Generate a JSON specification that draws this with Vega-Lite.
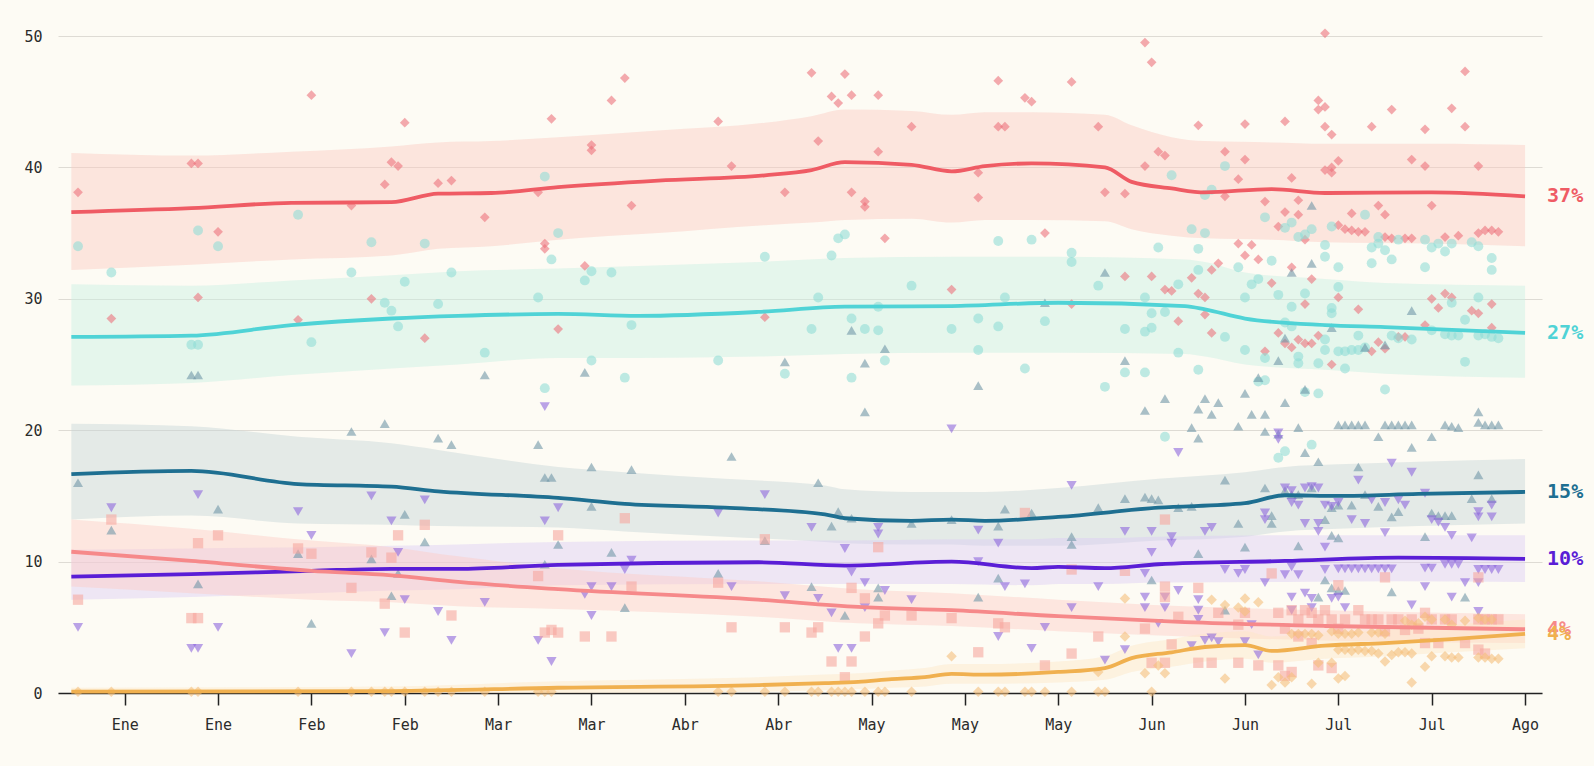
{
"$schema":"https://vega.github.io/schema/vega-lite/v6.json",
"width":1484,"height":657,
"autosize":{"type":"none"},
"padding":{"left":58,"top":36,"right":52,"bottom":73},
"background":"#fdfbf4",
"config":{"view":{"stroke":null},"font":"DejaVu Sans Mono",
"axisY":{"domain":false,"ticks":false,"tickSize":0,"labelPadding":16,"grid":true,"gridColor":"#dedbd4","gridWidth":1,"labelFont":"DejaVu Sans Mono","labelFontSize":15,"labelColor":"#2b2b2b","title":null},
"axisX":{"domain":true,"domainColor":"#222222","domainWidth":1.5,"ticks":true,"tickColor":"#222222","tickSize":12,"tickWidth":1.5,"grid":false,"labelFont":"DejaVu Sans Mono","labelFontSize":15,"labelColor":"#2b2b2b","labelPadding":12,"title":null}},
"datasets":{
"trend":[
{"date":"2015-01-03","party":"rojo","value":36.6,"lo":32.2,"hi":41.1},
{"date":"2015-01-21","party":"rojo","value":36.9,"lo":32.6,"hi":40.9},
{"date":"2015-02-05","party":"rojo","value":37.3,"lo":33.0,"hi":41.2},
{"date":"2015-02-20","party":"rojo","value":37.35,"lo":33.3,"hi":41.6},
{"date":"2015-02-27","party":"rojo","value":38.0,"lo":33.8,"hi":41.9},
{"date":"2015-03-07","party":"rojo","value":38.05,"lo":34.0,"hi":42.0},
{"date":"2015-03-17","party":"rojo","value":38.5,"lo":34.5,"hi":42.3},
{"date":"2015-04-01","party":"rojo","value":39.0,"lo":35.0,"hi":42.8},
{"date":"2015-04-17","party":"rojo","value":39.4,"lo":35.6,"hi":43.4},
{"date":"2015-04-24","party":"rojo","value":39.8,"lo":35.8,"hi":43.9},
{"date":"2015-04-29","party":"rojo","value":40.4,"lo":36.0,"hi":44.4},
{"date":"2015-05-09","party":"rojo","value":40.2,"lo":36.1,"hi":44.3},
{"date":"2015-05-15","party":"rojo","value":39.7,"lo":35.8,"hi":44.0},
{"date":"2015-05-20","party":"rojo","value":40.1,"lo":36.0,"hi":44.2},
{"date":"2015-05-27","party":"rojo","value":40.3,"lo":36.0,"hi":44.2},
{"date":"2015-06-07","party":"rojo","value":40.0,"lo":35.9,"hi":44.0},
{"date":"2015-06-11","party":"rojo","value":38.9,"lo":35.3,"hi":43.2},
{"date":"2015-06-17","party":"rojo","value":38.4,"lo":34.8,"hi":42.3},
{"date":"2015-06-22","party":"rojo","value":38.1,"lo":34.6,"hi":42.0},
{"date":"2015-07-02","party":"rojo","value":38.35,"lo":34.5,"hi":41.9},
{"date":"2015-07-10","party":"rojo","value":38.05,"lo":34.3,"hi":41.8},
{"date":"2015-07-26","party":"rojo","value":38.1,"lo":34.2,"hi":41.8},
{"date":"2015-08-09","party":"rojo","value":37.8,"lo":34.0,"hi":41.7},
{"date":"2015-01-03","party":"cian","value":27.1,"lo":23.4,"hi":31.1},
{"date":"2015-01-21","party":"cian","value":27.2,"lo":23.6,"hi":31.0},
{"date":"2015-02-05","party":"cian","value":28.0,"lo":24.2,"hi":31.4},
{"date":"2015-02-20","party":"cian","value":28.5,"lo":24.7,"hi":31.8},
{"date":"2015-03-02","party":"cian","value":28.7,"lo":25.0,"hi":32.1},
{"date":"2015-03-17","party":"cian","value":28.85,"lo":25.5,"hi":32.3},
{"date":"2015-03-29","party":"cian","value":28.7,"lo":25.5,"hi":32.5},
{"date":"2015-04-16","party":"cian","value":29.0,"lo":25.6,"hi":32.8},
{"date":"2015-04-29","party":"cian","value":29.4,"lo":25.8,"hi":33.1},
{"date":"2015-05-15","party":"cian","value":29.45,"lo":25.9,"hi":33.2},
{"date":"2015-05-31","party":"cian","value":29.7,"lo":25.9,"hi":33.2},
{"date":"2015-06-19","party":"cian","value":29.45,"lo":25.8,"hi":33.0},
{"date":"2015-06-22","party":"cian","value":29.2,"lo":25.6,"hi":32.8},
{"date":"2015-06-28","party":"cian","value":28.5,"lo":25.0,"hi":32.0},
{"date":"2015-07-10","party":"cian","value":28.0,"lo":24.6,"hi":31.5},
{"date":"2015-07-19","party":"cian","value":27.85,"lo":24.3,"hi":31.2},
{"date":"2015-08-09","party":"cian","value":27.4,"lo":24.0,"hi":31.0},
{"date":"2015-01-03","party":"azul","value":16.65,"lo":13.2,"hi":20.5},
{"date":"2015-01-21","party":"azul","value":16.9,"lo":13.5,"hi":20.3},
{"date":"2015-02-06","party":"azul","value":15.9,"lo":12.9,"hi":19.5},
{"date":"2015-02-20","party":"azul","value":15.7,"lo":12.8,"hi":19.0},
{"date":"2015-02-27","party":"azul","value":15.35,"lo":12.7,"hi":18.5},
{"date":"2015-03-17","party":"azul","value":14.85,"lo":12.6,"hi":17.2},
{"date":"2015-03-27","party":"azul","value":14.4,"lo":12.3,"hi":16.8},
{"date":"2015-04-11","party":"azul","value":14.1,"lo":11.9,"hi":16.3},
{"date":"2015-04-26","party":"azul","value":13.6,"lo":11.5,"hi":15.8},
{"date":"2015-04-29","party":"azul","value":13.3,"lo":11.4,"hi":15.5},
{"date":"2015-05-09","party":"azul","value":13.1,"lo":11.3,"hi":15.3},
{"date":"2015-05-15","party":"azul","value":13.2,"lo":11.3,"hi":15.3},
{"date":"2015-05-20","party":"azul","value":13.1,"lo":11.2,"hi":15.3},
{"date":"2015-05-31","party":"azul","value":13.4,"lo":11.2,"hi":15.6},
{"date":"2015-06-15","party":"azul","value":14.1,"lo":11.6,"hi":16.3},
{"date":"2015-06-28","party":"azul","value":14.45,"lo":11.9,"hi":16.8},
{"date":"2015-07-04","party":"azul","value":15.05,"lo":12.3,"hi":17.2},
{"date":"2015-07-12","party":"azul","value":15.0,"lo":12.5,"hi":17.4},
{"date":"2015-07-24","party":"azul","value":15.15,"lo":12.7,"hi":17.6},
{"date":"2015-08-09","party":"azul","value":15.3,"lo":12.9,"hi":17.8},
{"date":"2015-01-03","party":"morado","value":8.85,"lo":7.1,"hi":10.9},
{"date":"2015-01-21","party":"morado","value":9.05,"lo":7.3,"hi":11.0},
{"date":"2015-02-08","party":"morado","value":9.3,"lo":7.6,"hi":11.1},
{"date":"2015-02-20","party":"morado","value":9.45,"lo":7.8,"hi":11.2},
{"date":"2015-03-02","party":"morado","value":9.45,"lo":7.9,"hi":11.3},
{"date":"2015-03-17","party":"morado","value":9.75,"lo":8.2,"hi":11.5},
{"date":"2015-04-16","party":"morado","value":9.95,"lo":8.3,"hi":11.6},
{"date":"2015-04-29","party":"morado","value":9.7,"lo":8.3,"hi":11.6},
{"date":"2015-05-15","party":"morado","value":10.0,"lo":8.3,"hi":11.7},
{"date":"2015-05-27","party":"morado","value":9.5,"lo":8.2,"hi":11.7},
{"date":"2015-05-31","party":"morado","value":9.6,"lo":8.3,"hi":11.8},
{"date":"2015-06-07","party":"morado","value":9.5,"lo":8.3,"hi":11.8},
{"date":"2015-06-15","party":"morado","value":9.8,"lo":8.4,"hi":11.9},
{"date":"2015-07-04","party":"morado","value":10.05,"lo":8.45,"hi":12.0},
{"date":"2015-07-21","party":"morado","value":10.3,"lo":8.5,"hi":12.0},
{"date":"2015-08-09","party":"morado","value":10.2,"lo":8.45,"hi":12.0},
{"date":"2015-01-03","party":"rosa","value":10.75,"lo":8.1,"hi":13.2},
{"date":"2015-01-21","party":"rosa","value":10.05,"lo":7.6,"hi":12.5},
{"date":"2015-02-08","party":"rosa","value":9.3,"lo":7.1,"hi":11.6},
{"date":"2015-02-20","party":"rosa","value":8.95,"lo":6.9,"hi":11.1},
{"date":"2015-03-02","party":"rosa","value":8.45,"lo":6.6,"hi":10.4},
{"date":"2015-03-17","party":"rosa","value":7.9,"lo":6.4,"hi":9.5},
{"date":"2015-04-16","party":"rosa","value":7.1,"lo":5.8,"hi":8.5},
{"date":"2015-05-01","party":"rosa","value":6.55,"lo":5.3,"hi":7.9},
{"date":"2015-05-15","party":"rosa","value":6.3,"lo":5.1,"hi":7.6},
{"date":"2015-05-31","party":"rosa","value":5.85,"lo":4.7,"hi":7.1},
{"date":"2015-06-19","party":"rosa","value":5.4,"lo":4.3,"hi":6.6},
{"date":"2015-07-10","party":"rosa","value":5.1,"lo":4.0,"hi":6.3},
{"date":"2015-08-09","party":"rosa","value":4.85,"lo":3.8,"hi":6.0},
{"date":"2015-01-03","party":"naranja","value":0.1,"lo":0.0,"hi":0.4},
{"date":"2015-02-20","party":"naranja","value":0.15,"lo":0.0,"hi":0.5},
{"date":"2015-03-17","party":"naranja","value":0.4,"lo":0.0,"hi":0.9},
{"date":"2015-04-16","party":"naranja","value":0.6,"lo":0.1,"hi":1.2},
{"date":"2015-04-26","party":"naranja","value":0.75,"lo":0.2,"hi":1.4},
{"date":"2015-05-01","party":"naranja","value":0.85,"lo":0.3,"hi":1.5},
{"date":"2015-05-06","party":"naranja","value":1.05,"lo":0.4,"hi":1.7},
{"date":"2015-05-11","party":"naranja","value":1.2,"lo":0.5,"hi":1.9},
{"date":"2015-05-15","party":"naranja","value":1.45,"lo":0.7,"hi":2.2},
{"date":"2015-05-20","party":"naranja","value":1.4,"lo":0.7,"hi":2.2},
{"date":"2015-05-31","party":"naranja","value":1.6,"lo":0.8,"hi":2.4},
{"date":"2015-06-07","party":"naranja","value":1.9,"lo":1.0,"hi":2.8},
{"date":"2015-06-11","party":"naranja","value":2.65,"lo":1.6,"hi":3.6},
{"date":"2015-06-17","party":"naranja","value":3.1,"lo":2.0,"hi":4.1},
{"date":"2015-06-22","party":"naranja","value":3.5,"lo":2.4,"hi":4.5},
{"date":"2015-06-28","party":"naranja","value":3.65,"lo":2.6,"hi":4.7},
{"date":"2015-07-02","party":"naranja","value":3.2,"lo":2.3,"hi":4.3},
{"date":"2015-07-10","party":"naranja","value":3.6,"lo":2.6,"hi":4.6},
{"date":"2015-07-19","party":"naranja","value":3.8,"lo":2.8,"hi":4.8},
{"date":"2015-07-29","party":"naranja","value":4.1,"lo":3.1,"hi":5.2},
{"date":"2015-08-09","party":"naranja","value":4.5,"lo":3.4,"hi":5.6}
],
"labels":[
{"date":"2015-08-09","party":"rojo","value":37.8,"label":"37%"},
{"date":"2015-08-09","party":"cian","value":27.4,"label":"27%"},
{"date":"2015-08-09","party":"azul","value":15.3,"label":"15%"},
{"date":"2015-08-09","party":"morado","value":10.2,"label":"10%"},
{"date":"2015-08-09","party":"rosa","value":4.85,"label":"4%"},
{"date":"2015-08-09","party":"naranja","value":4.5,"label":"4%"}
],
"polls":[
{"date":"2015-01-04","party":"rojo","value":38.1},{"date":"2015-01-09","party":"rojo","value":28.5},{"date":"2015-01-21","party":"rojo","value":40.3},{"date":"2015-01-22","party":"rojo","value":40.3},{"date":"2015-01-22","party":"rojo","value":30.1},{"date":"2015-01-25","party":"rojo","value":35.1},{"date":"2015-02-06","party":"rojo","value":28.4},{"date":"2015-02-08","party":"rojo","value":45.5},{"date":"2015-02-14","party":"rojo","value":37.1},{"date":"2015-02-17","party":"rojo","value":30.0},{"date":"2015-02-19","party":"rojo","value":38.7},{"date":"2015-02-20","party":"rojo","value":40.4},{"date":"2015-02-21","party":"rojo","value":40.1},{"date":"2015-02-22","party":"rojo","value":43.4},{"date":"2015-02-25","party":"rojo","value":27.0},{"date":"2015-02-27","party":"rojo","value":38.8},{"date":"2015-03-01","party":"rojo","value":39.0},{"date":"2015-03-06","party":"rojo","value":36.2},{"date":"2015-03-14","party":"rojo","value":38.1},{"date":"2015-03-15","party":"rojo","value":34.2},{"date":"2015-03-15","party":"rojo","value":33.8},{"date":"2015-03-16","party":"rojo","value":43.7},{"date":"2015-03-17","party":"rojo","value":27.7},{"date":"2015-03-21","party":"rojo","value":32.5},{"date":"2015-03-22","party":"rojo","value":41.7},{"date":"2015-03-22","party":"rojo","value":41.3},{"date":"2015-03-25","party":"rojo","value":45.1},{"date":"2015-03-27","party":"rojo","value":46.8},{"date":"2015-03-28","party":"rojo","value":37.1},{"date":"2015-04-10","party":"rojo","value":43.5},{"date":"2015-04-12","party":"rojo","value":40.1},{"date":"2015-04-17","party":"rojo","value":28.6},{"date":"2015-04-20","party":"rojo","value":38.1},{"date":"2015-04-24","party":"rojo","value":47.2},{"date":"2015-04-25","party":"rojo","value":42.0},{"date":"2015-04-27","party":"rojo","value":45.4},{"date":"2015-04-28","party":"rojo","value":44.9},{"date":"2015-04-29","party":"rojo","value":47.1},{"date":"2015-04-30","party":"rojo","value":45.5},{"date":"2015-04-30","party":"rojo","value":38.1},{"date":"2015-05-02","party":"rojo","value":37.4},{"date":"2015-05-02","party":"rojo","value":37.0},{"date":"2015-05-04","party":"rojo","value":45.5},{"date":"2015-05-04","party":"rojo","value":41.2},{"date":"2015-05-05","party":"rojo","value":34.6},{"date":"2015-05-09","party":"rojo","value":43.1},{"date":"2015-05-15","party":"rojo","value":30.7},{"date":"2015-05-19","party":"rojo","value":39.6},{"date":"2015-05-19","party":"rojo","value":37.7},{"date":"2015-05-22","party":"rojo","value":46.6},{"date":"2015-05-22","party":"rojo","value":43.1},{"date":"2015-05-23","party":"rojo","value":43.1},{"date":"2015-05-26","party":"rojo","value":45.3},{"date":"2015-05-27","party":"rojo","value":45.0},{"date":"2015-05-29","party":"rojo","value":35.0},{"date":"2015-06-02","party":"rojo","value":46.5},{"date":"2015-06-02","party":"rojo","value":29.6},{"date":"2015-06-06","party":"rojo","value":43.1},{"date":"2015-06-07","party":"rojo","value":38.1},{"date":"2015-06-10","party":"rojo","value":38.0},{"date":"2015-06-10","party":"rojo","value":31.7},{"date":"2015-06-13","party":"rojo","value":49.5},{"date":"2015-06-13","party":"rojo","value":40.1},{"date":"2015-06-14","party":"rojo","value":48.0},{"date":"2015-06-14","party":"rojo","value":31.7},{"date":"2015-06-15","party":"rojo","value":41.2},{"date":"2015-06-16","party":"rojo","value":40.9},{"date":"2015-06-16","party":"rojo","value":30.7},{"date":"2015-06-17","party":"rojo","value":30.6},{"date":"2015-06-18","party":"rojo","value":28.3},{"date":"2015-06-20","party":"rojo","value":31.6},{"date":"2015-06-21","party":"rojo","value":43.2},{"date":"2015-06-21","party":"rojo","value":30.4},{"date":"2015-06-22","party":"rojo","value":30.1},{"date":"2015-06-22","party":"rojo","value":28.8},{"date":"2015-06-23","party":"rojo","value":32.2},{"date":"2015-06-23","party":"rojo","value":27.4},{"date":"2015-06-24","party":"rojo","value":32.7},{"date":"2015-06-25","party":"rojo","value":41.2},{"date":"2015-06-25","party":"rojo","value":37.8},{"date":"2015-06-27","party":"rojo","value":39.1},{"date":"2015-06-27","party":"rojo","value":34.2},{"date":"2015-06-28","party":"rojo","value":43.3},{"date":"2015-06-28","party":"rojo","value":40.6},{"date":"2015-06-28","party":"rojo","value":33.3},{"date":"2015-06-29","party":"rojo","value":34.1},{"date":"2015-06-30","party":"rojo","value":33.0},{"date":"2015-07-01","party":"rojo","value":37.4},{"date":"2015-07-01","party":"rojo","value":26.0},{"date":"2015-07-02","party":"rojo","value":31.2},{"date":"2015-07-03","party":"rojo","value":35.5},{"date":"2015-07-03","party":"rojo","value":27.4},{"date":"2015-07-04","party":"rojo","value":43.5},{"date":"2015-07-04","party":"rojo","value":36.6},{"date":"2015-07-04","party":"rojo","value":26.6},{"date":"2015-07-05","party":"rojo","value":39.2},{"date":"2015-07-05","party":"rojo","value":32.4},{"date":"2015-07-05","party":"rojo","value":26.3},{"date":"2015-07-06","party":"rojo","value":37.5},{"date":"2015-07-06","party":"rojo","value":36.4},{"date":"2015-07-06","party":"rojo","value":26.9},{"date":"2015-07-07","party":"rojo","value":34.5},{"date":"2015-07-07","party":"rojo","value":29.6},{"date":"2015-07-07","party":"rojo","value":26.6},{"date":"2015-07-08","party":"rojo","value":31.5},{"date":"2015-07-08","party":"rojo","value":26.6},{"date":"2015-07-09","party":"rojo","value":45.1},{"date":"2015-07-09","party":"rojo","value":44.4},{"date":"2015-07-09","party":"rojo","value":27.2},{"date":"2015-07-10","party":"rojo","value":50.2},{"date":"2015-07-10","party":"rojo","value":44.6},{"date":"2015-07-10","party":"rojo","value":43.1},{"date":"2015-07-10","party":"rojo","value":39.8},{"date":"2015-07-11","party":"rojo","value":42.5},{"date":"2015-07-11","party":"rojo","value":40.0},{"date":"2015-07-11","party":"rojo","value":39.6},{"date":"2015-07-11","party":"rojo","value":25.0},{"date":"2015-07-12","party":"rojo","value":40.5},{"date":"2015-07-12","party":"rojo","value":35.6},{"date":"2015-07-12","party":"rojo","value":30.1},{"date":"2015-07-13","party":"rojo","value":35.3},{"date":"2015-07-14","party":"rojo","value":36.5},{"date":"2015-07-14","party":"rojo","value":35.2},{"date":"2015-07-15","party":"rojo","value":35.1},{"date":"2015-07-15","party":"rojo","value":29.2},{"date":"2015-07-16","party":"rojo","value":35.1},{"date":"2015-07-17","party":"rojo","value":43.1},{"date":"2015-07-17","party":"rojo","value":26.0},{"date":"2015-07-18","party":"rojo","value":37.1},{"date":"2015-07-18","party":"rojo","value":26.7},{"date":"2015-07-19","party":"rojo","value":36.4},{"date":"2015-07-19","party":"rojo","value":34.7},{"date":"2015-07-19","party":"rojo","value":26.2},{"date":"2015-07-20","party":"rojo","value":44.4},{"date":"2015-07-20","party":"rojo","value":34.6},{"date":"2015-07-21","party":"rojo","value":27.1},{"date":"2015-07-22","party":"rojo","value":34.6},{"date":"2015-07-22","party":"rojo","value":27.1},{"date":"2015-07-23","party":"rojo","value":40.6},{"date":"2015-07-23","party":"rojo","value":34.6},{"date":"2015-07-25","party":"rojo","value":42.9},{"date":"2015-07-25","party":"rojo","value":40.1},{"date":"2015-07-25","party":"rojo","value":28.0},{"date":"2015-07-26","party":"rojo","value":37.1},{"date":"2015-07-26","party":"rojo","value":30.0},{"date":"2015-07-27","party":"rojo","value":29.3},{"date":"2015-07-28","party":"rojo","value":34.7},{"date":"2015-07-28","party":"rojo","value":30.4},{"date":"2015-07-29","party":"rojo","value":44.5},{"date":"2015-07-29","party":"rojo","value":30.1},{"date":"2015-07-30","party":"rojo","value":34.8},{"date":"2015-07-31","party":"rojo","value":47.3},{"date":"2015-07-31","party":"rojo","value":43.1},{"date":"2015-08-01","party":"rojo","value":29.1},{"date":"2015-08-02","party":"rojo","value":40.1},{"date":"2015-08-02","party":"rojo","value":35.0},{"date":"2015-08-02","party":"rojo","value":28.9},{"date":"2015-08-03","party":"rojo","value":35.2},{"date":"2015-08-04","party":"rojo","value":35.2},{"date":"2015-08-04","party":"rojo","value":29.6},{"date":"2015-08-04","party":"rojo","value":27.8},{"date":"2015-08-05","party":"rojo","value":35.1},
{"date":"2015-01-04","party":"cian","value":34.0},{"date":"2015-01-09","party":"cian","value":32.0},{"date":"2015-01-21","party":"cian","value":26.5},{"date":"2015-01-22","party":"cian","value":35.2},{"date":"2015-01-22","party":"cian","value":26.5},{"date":"2015-01-25","party":"cian","value":34.0},{"date":"2015-02-06","party":"cian","value":36.4},{"date":"2015-02-08","party":"cian","value":26.7},{"date":"2015-02-14","party":"cian","value":32.0},{"date":"2015-02-17","party":"cian","value":34.3},{"date":"2015-02-19","party":"cian","value":29.7},{"date":"2015-02-20","party":"cian","value":29.1},{"date":"2015-02-21","party":"cian","value":27.9},{"date":"2015-02-22","party":"cian","value":31.3},{"date":"2015-02-25","party":"cian","value":34.2},{"date":"2015-02-27","party":"cian","value":29.6},{"date":"2015-03-01","party":"cian","value":32.0},{"date":"2015-03-06","party":"cian","value":25.9},{"date":"2015-03-14","party":"cian","value":30.1},{"date":"2015-03-15","party":"cian","value":39.3},{"date":"2015-03-15","party":"cian","value":23.2},{"date":"2015-03-16","party":"cian","value":33.0},{"date":"2015-03-17","party":"cian","value":35.0},{"date":"2015-03-21","party":"cian","value":31.4},{"date":"2015-03-22","party":"cian","value":32.1},{"date":"2015-03-22","party":"cian","value":25.3},{"date":"2015-03-25","party":"cian","value":32.0},{"date":"2015-03-27","party":"cian","value":24.0},{"date":"2015-03-28","party":"cian","value":28.0},{"date":"2015-04-10","party":"cian","value":25.3},{"date":"2015-04-17","party":"cian","value":33.2},{"date":"2015-04-20","party":"cian","value":24.3},{"date":"2015-04-24","party":"cian","value":27.7},{"date":"2015-04-25","party":"cian","value":30.1},{"date":"2015-04-27","party":"cian","value":33.3},{"date":"2015-04-28","party":"cian","value":34.6},{"date":"2015-04-29","party":"cian","value":34.9},{"date":"2015-04-30","party":"cian","value":28.5},{"date":"2015-04-30","party":"cian","value":24.0},{"date":"2015-05-02","party":"cian","value":27.7},{"date":"2015-05-04","party":"cian","value":29.4},{"date":"2015-05-04","party":"cian","value":27.6},{"date":"2015-05-05","party":"cian","value":25.3},{"date":"2015-05-09","party":"cian","value":31.0},{"date":"2015-05-15","party":"cian","value":27.7},{"date":"2015-05-19","party":"cian","value":28.5},{"date":"2015-05-19","party":"cian","value":26.1},{"date":"2015-05-22","party":"cian","value":34.4},{"date":"2015-05-22","party":"cian","value":27.9},{"date":"2015-05-23","party":"cian","value":30.1},{"date":"2015-05-26","party":"cian","value":24.7},{"date":"2015-05-27","party":"cian","value":34.5},{"date":"2015-05-29","party":"cian","value":28.3},{"date":"2015-06-02","party":"cian","value":33.5},{"date":"2015-06-02","party":"cian","value":32.8},{"date":"2015-06-06","party":"cian","value":31.0},{"date":"2015-06-07","party":"cian","value":23.3},{"date":"2015-06-10","party":"cian","value":27.7},{"date":"2015-06-10","party":"cian","value":24.4},{"date":"2015-06-13","party":"cian","value":30.1},{"date":"2015-06-13","party":"cian","value":27.5},{"date":"2015-06-13","party":"cian","value":24.4},{"date":"2015-06-14","party":"cian","value":28.9},{"date":"2015-06-14","party":"cian","value":27.8},{"date":"2015-06-15","party":"cian","value":33.9},{"date":"2015-06-16","party":"cian","value":29.0},{"date":"2015-06-16","party":"cian","value":19.5},{"date":"2015-06-17","party":"cian","value":39.4},{"date":"2015-06-18","party":"cian","value":31.1},{"date":"2015-06-18","party":"cian","value":25.9},{"date":"2015-06-20","party":"cian","value":35.3},{"date":"2015-06-21","party":"cian","value":33.8},{"date":"2015-06-21","party":"cian","value":32.2},{"date":"2015-06-21","party":"cian","value":24.6},{"date":"2015-06-22","party":"cian","value":37.9},{"date":"2015-06-22","party":"cian","value":35.0},{"date":"2015-06-23","party":"cian","value":38.3},{"date":"2015-06-25","party":"cian","value":40.1},{"date":"2015-06-25","party":"cian","value":27.1},{"date":"2015-06-27","party":"cian","value":32.4},{"date":"2015-06-28","party":"cian","value":30.1},{"date":"2015-06-28","party":"cian","value":26.1},{"date":"2015-06-29","party":"cian","value":31.1},{"date":"2015-06-30","party":"cian","value":31.5},{"date":"2015-06-30","party":"cian","value":23.7},{"date":"2015-07-01","party":"cian","value":36.2},{"date":"2015-07-01","party":"cian","value":25.5},{"date":"2015-07-01","party":"cian","value":23.8},{"date":"2015-07-02","party":"cian","value":32.9},{"date":"2015-07-03","party":"cian","value":30.3},{"date":"2015-07-03","party":"cian","value":17.9},{"date":"2015-07-04","party":"cian","value":35.4},{"date":"2015-07-04","party":"cian","value":28.2},{"date":"2015-07-04","party":"cian","value":18.4},{"date":"2015-07-05","party":"cian","value":35.8},{"date":"2015-07-05","party":"cian","value":29.4},{"date":"2015-07-05","party":"cian","value":27.9},{"date":"2015-07-06","party":"cian","value":34.7},{"date":"2015-07-06","party":"cian","value":25.6},{"date":"2015-07-06","party":"cian","value":25.1},{"date":"2015-07-07","party":"cian","value":34.9},{"date":"2015-07-07","party":"cian","value":30.4},{"date":"2015-07-07","party":"cian","value":22.9},{"date":"2015-07-08","party":"cian","value":35.3},{"date":"2015-07-08","party":"cian","value":18.9},{"date":"2015-07-09","party":"cian","value":25.1},{"date":"2015-07-09","party":"cian","value":22.8},{"date":"2015-07-10","party":"cian","value":34.1},{"date":"2015-07-10","party":"cian","value":33.2},{"date":"2015-07-10","party":"cian","value":26.9},{"date":"2015-07-10","party":"cian","value":26.1},{"date":"2015-07-11","party":"cian","value":35.5},{"date":"2015-07-11","party":"cian","value":29.3},{"date":"2015-07-11","party":"cian","value":28.9},{"date":"2015-07-12","party":"cian","value":32.4},{"date":"2015-07-12","party":"cian","value":30.9},{"date":"2015-07-12","party":"cian","value":26.0},{"date":"2015-07-13","party":"cian","value":26.0},{"date":"2015-07-13","party":"cian","value":24.7},{"date":"2015-07-14","party":"cian","value":26.1},{"date":"2015-07-15","party":"cian","value":27.2},{"date":"2015-07-15","party":"cian","value":26.1},{"date":"2015-07-16","party":"cian","value":36.4},{"date":"2015-07-16","party":"cian","value":26.3},{"date":"2015-07-17","party":"cian","value":33.9},{"date":"2015-07-17","party":"cian","value":32.7},{"date":"2015-07-18","party":"cian","value":34.7},{"date":"2015-07-18","party":"cian","value":34.2},{"date":"2015-07-19","party":"cian","value":33.7},{"date":"2015-07-19","party":"cian","value":23.1},{"date":"2015-07-20","party":"cian","value":33.0},{"date":"2015-07-20","party":"cian","value":27.2},{"date":"2015-07-21","party":"cian","value":34.5},{"date":"2015-07-21","party":"cian","value":27.0},{"date":"2015-07-23","party":"cian","value":26.9},{"date":"2015-07-25","party":"cian","value":34.5},{"date":"2015-07-25","party":"cian","value":32.4},{"date":"2015-07-26","party":"cian","value":33.9},{"date":"2015-07-26","party":"cian","value":27.6},{"date":"2015-07-27","party":"cian","value":34.2},{"date":"2015-07-28","party":"cian","value":33.6},{"date":"2015-07-28","party":"cian","value":27.3},{"date":"2015-07-29","party":"cian","value":34.2},{"date":"2015-07-29","party":"cian","value":29.7},{"date":"2015-07-29","party":"cian","value":27.2},{"date":"2015-07-30","party":"cian","value":27.2},{"date":"2015-07-31","party":"cian","value":28.4},{"date":"2015-07-31","party":"cian","value":25.2},{"date":"2015-08-01","party":"cian","value":34.3},{"date":"2015-08-02","party":"cian","value":34.0},{"date":"2015-08-02","party":"cian","value":30.1},{"date":"2015-08-02","party":"cian","value":27.2},{"date":"2015-08-03","party":"cian","value":27.3},{"date":"2015-08-04","party":"cian","value":33.1},{"date":"2015-08-04","party":"cian","value":32.2},{"date":"2015-08-04","party":"cian","value":27.1},{"date":"2015-08-05","party":"cian","value":27.0},
{"date":"2015-01-04","party":"azul","value":16.0},{"date":"2015-01-09","party":"azul","value":12.4},{"date":"2015-01-21","party":"azul","value":24.2},{"date":"2015-01-22","party":"azul","value":24.2},{"date":"2015-01-22","party":"azul","value":8.3},{"date":"2015-01-25","party":"azul","value":14.0},{"date":"2015-02-06","party":"azul","value":10.6},{"date":"2015-02-08","party":"azul","value":5.3},{"date":"2015-02-14","party":"azul","value":19.9},{"date":"2015-02-17","party":"azul","value":10.2},{"date":"2015-02-19","party":"azul","value":20.5},{"date":"2015-02-20","party":"azul","value":7.4},{"date":"2015-02-21","party":"azul","value":9.1},{"date":"2015-02-22","party":"azul","value":13.6},{"date":"2015-02-25","party":"azul","value":11.5},{"date":"2015-02-27","party":"azul","value":19.4},{"date":"2015-03-01","party":"azul","value":18.9},{"date":"2015-03-06","party":"azul","value":24.2},{"date":"2015-03-14","party":"azul","value":18.9},{"date":"2015-03-15","party":"azul","value":16.4},{"date":"2015-03-15","party":"azul","value":9.8},{"date":"2015-03-16","party":"azul","value":16.4},{"date":"2015-03-17","party":"azul","value":11.3},{"date":"2015-03-21","party":"azul","value":24.4},{"date":"2015-03-22","party":"azul","value":17.2},{"date":"2015-03-22","party":"azul","value":14.2},{"date":"2015-03-25","party":"azul","value":10.7},{"date":"2015-03-27","party":"azul","value":6.5},{"date":"2015-03-28","party":"azul","value":17.0},{"date":"2015-04-10","party":"azul","value":9.1},{"date":"2015-04-12","party":"azul","value":18.0},{"date":"2015-04-17","party":"azul","value":11.6},{"date":"2015-04-20","party":"azul","value":25.2},{"date":"2015-04-24","party":"azul","value":8.1},{"date":"2015-04-25","party":"azul","value":16.0},{"date":"2015-04-27","party":"azul","value":12.7},{"date":"2015-04-28","party":"azul","value":13.8},{"date":"2015-04-29","party":"azul","value":5.9},{"date":"2015-04-30","party":"azul","value":27.6},{"date":"2015-04-30","party":"azul","value":13.3},{"date":"2015-05-02","party":"azul","value":25.1},{"date":"2015-05-02","party":"azul","value":21.4},{"date":"2015-05-04","party":"azul","value":8.0},{"date":"2015-05-04","party":"azul","value":7.3},{"date":"2015-05-05","party":"azul","value":26.2},{"date":"2015-05-09","party":"azul","value":12.9},{"date":"2015-05-15","party":"azul","value":13.2},{"date":"2015-05-19","party":"azul","value":23.4},{"date":"2015-05-19","party":"azul","value":7.3},{"date":"2015-05-22","party":"azul","value":12.7},{"date":"2015-05-22","party":"azul","value":8.75},{"date":"2015-05-23","party":"azul","value":14.0},{"date":"2015-05-27","party":"azul","value":13.7},{"date":"2015-05-29","party":"azul","value":29.7},{"date":"2015-06-02","party":"azul","value":11.9},{"date":"2015-06-02","party":"azul","value":11.3},{"date":"2015-06-06","party":"azul","value":14.1},{"date":"2015-06-07","party":"azul","value":32.0},{"date":"2015-06-10","party":"azul","value":25.3},{"date":"2015-06-10","party":"azul","value":14.8},{"date":"2015-06-13","party":"azul","value":21.5},{"date":"2015-06-13","party":"azul","value":14.9},{"date":"2015-06-14","party":"azul","value":14.8},{"date":"2015-06-14","party":"azul","value":8.6},{"date":"2015-06-15","party":"azul","value":14.7},{"date":"2015-06-16","party":"azul","value":22.4},{"date":"2015-06-18","party":"azul","value":14.1},{"date":"2015-06-20","party":"azul","value":20.2},{"date":"2015-06-20","party":"azul","value":14.2},{"date":"2015-06-21","party":"azul","value":21.6},{"date":"2015-06-21","party":"azul","value":19.4},{"date":"2015-06-21","party":"azul","value":10.6},{"date":"2015-06-22","party":"azul","value":22.4},{"date":"2015-06-23","party":"azul","value":21.2},{"date":"2015-06-24","party":"azul","value":22.1},{"date":"2015-06-25","party":"azul","value":16.2},{"date":"2015-06-25","party":"azul","value":6.3},{"date":"2015-06-27","party":"azul","value":20.3},{"date":"2015-06-27","party":"azul","value":12.9},{"date":"2015-06-28","party":"azul","value":22.8},{"date":"2015-06-28","party":"azul","value":11.1},{"date":"2015-06-29","party":"azul","value":21.2},{"date":"2015-06-30","party":"azul","value":24.0},{"date":"2015-07-01","party":"azul","value":21.2},{"date":"2015-07-01","party":"azul","value":19.9},{"date":"2015-07-01","party":"azul","value":15.6},{"date":"2015-07-02","party":"azul","value":13.5},{"date":"2015-07-02","party":"azul","value":12.9},{"date":"2015-07-03","party":"azul","value":25.3},{"date":"2015-07-03","party":"azul","value":19.7},{"date":"2015-07-04","party":"azul","value":27.0},{"date":"2015-07-04","party":"azul","value":22.1},{"date":"2015-07-04","party":"azul","value":15.4},{"date":"2015-07-05","party":"azul","value":32.0},{"date":"2015-07-05","party":"azul","value":15.1},{"date":"2015-07-06","party":"azul","value":20.2},{"date":"2015-07-06","party":"azul","value":15.1},{"date":"2015-07-06","party":"azul","value":11.2},{"date":"2015-07-07","party":"azul","value":23.1},{"date":"2015-07-07","party":"azul","value":18.3},{"date":"2015-07-08","party":"azul","value":37.1},{"date":"2015-07-08","party":"azul","value":32.7},{"date":"2015-07-08","party":"azul","value":15.6},{"date":"2015-07-09","party":"azul","value":17.6},{"date":"2015-07-09","party":"azul","value":7.3},{"date":"2015-07-10","party":"azul","value":13.2},{"date":"2015-07-10","party":"azul","value":8.6},{"date":"2015-07-11","party":"azul","value":27.8},{"date":"2015-07-11","party":"azul","value":14.1},{"date":"2015-07-11","party":"azul","value":12.0},{"date":"2015-07-11","party":"azul","value":8.0},{"date":"2015-07-12","party":"azul","value":20.4},{"date":"2015-07-12","party":"azul","value":14.3},{"date":"2015-07-12","party":"azul","value":11.8},{"date":"2015-07-12","party":"azul","value":7.8},{"date":"2015-07-13","party":"azul","value":20.4},{"date":"2015-07-13","party":"azul","value":7.8},{"date":"2015-07-14","party":"azul","value":20.4},{"date":"2015-07-14","party":"azul","value":14.3},{"date":"2015-07-15","party":"azul","value":20.4},{"date":"2015-07-15","party":"azul","value":17.2},{"date":"2015-07-16","party":"azul","value":20.4},{"date":"2015-07-16","party":"azul","value":26.3},{"date":"2015-07-16","party":"azul","value":15.1},{"date":"2015-07-18","party":"azul","value":19.5},{"date":"2015-07-18","party":"azul","value":14.2},{"date":"2015-07-19","party":"azul","value":20.4},{"date":"2015-07-19","party":"azul","value":26.5},{"date":"2015-07-20","party":"azul","value":20.4},{"date":"2015-07-20","party":"azul","value":13.4},{"date":"2015-07-20","party":"azul","value":7.7},{"date":"2015-07-21","party":"azul","value":20.4},{"date":"2015-07-21","party":"azul","value":13.8},{"date":"2015-07-22","party":"azul","value":20.4},{"date":"2015-07-23","party":"azul","value":20.4},{"date":"2015-07-23","party":"azul","value":18.7},{"date":"2015-07-23","party":"azul","value":29.1},{"date":"2015-07-25","party":"azul","value":11.9},{"date":"2015-07-26","party":"azul","value":19.5},{"date":"2015-07-26","party":"azul","value":13.7},{"date":"2015-07-27","party":"azul","value":13.5},{"date":"2015-07-28","party":"azul","value":20.4},{"date":"2015-07-28","party":"azul","value":13.5},{"date":"2015-07-29","party":"azul","value":20.3},{"date":"2015-07-29","party":"azul","value":13.5},{"date":"2015-07-30","party":"azul","value":20.2},{"date":"2015-07-31","party":"azul","value":7.3},{"date":"2015-08-01","party":"azul","value":14.8},{"date":"2015-08-02","party":"azul","value":21.4},{"date":"2015-08-02","party":"azul","value":20.6},{"date":"2015-08-02","party":"azul","value":16.6},{"date":"2015-08-03","party":"azul","value":20.4},{"date":"2015-08-04","party":"azul","value":20.4},{"date":"2015-08-04","party":"azul","value":14.8},{"date":"2015-08-05","party":"azul","value":20.4},
{"date":"2015-01-04","party":"morado","value":5.0},{"date":"2015-01-09","party":"morado","value":14.1},{"date":"2015-01-21","party":"morado","value":3.4},{"date":"2015-01-22","party":"morado","value":15.1},{"date":"2015-01-22","party":"morado","value":3.4},{"date":"2015-01-25","party":"morado","value":5.0},{"date":"2015-02-06","party":"morado","value":13.8},{"date":"2015-02-08","party":"morado","value":12.0},{"date":"2015-02-14","party":"morado","value":3.0},{"date":"2015-02-17","party":"morado","value":15.0},{"date":"2015-02-19","party":"morado","value":4.6},{"date":"2015-02-20","party":"morado","value":13.1},{"date":"2015-02-21","party":"morado","value":10.7},{"date":"2015-02-22","party":"morado","value":7.1},{"date":"2015-02-25","party":"morado","value":14.7},{"date":"2015-02-27","party":"morado","value":6.2},{"date":"2015-03-01","party":"morado","value":4.0},{"date":"2015-03-06","party":"morado","value":6.9},{"date":"2015-03-14","party":"morado","value":4.0},{"date":"2015-03-15","party":"morado","value":21.8},{"date":"2015-03-15","party":"morado","value":13.1},{"date":"2015-03-16","party":"morado","value":2.4},{"date":"2015-03-17","party":"morado","value":14.1},{"date":"2015-03-21","party":"morado","value":7.5},{"date":"2015-03-22","party":"morado","value":8.1},{"date":"2015-03-22","party":"morado","value":5.9},{"date":"2015-03-25","party":"morado","value":8.1},{"date":"2015-03-27","party":"morado","value":9.4},{"date":"2015-03-28","party":"morado","value":10.1},{"date":"2015-04-10","party":"morado","value":13.7},{"date":"2015-04-12","party":"morado","value":8.1},{"date":"2015-04-17","party":"morado","value":15.1},{"date":"2015-04-20","party":"morado","value":7.4},{"date":"2015-04-24","party":"morado","value":12.6},{"date":"2015-04-25","party":"morado","value":7.2},{"date":"2015-04-27","party":"morado","value":6.1},{"date":"2015-04-28","party":"morado","value":3.4},{"date":"2015-04-29","party":"morado","value":11.0},{"date":"2015-04-30","party":"morado","value":9.2},{"date":"2015-04-30","party":"morado","value":3.4},{"date":"2015-05-02","party":"morado","value":8.4},{"date":"2015-05-02","party":"morado","value":6.5},{"date":"2015-05-04","party":"morado","value":12.6},{"date":"2015-05-04","party":"morado","value":12.1},{"date":"2015-05-05","party":"morado","value":7.8},{"date":"2015-05-09","party":"morado","value":7.1},{"date":"2015-05-15","party":"morado","value":20.1},{"date":"2015-05-19","party":"morado","value":12.4},{"date":"2015-05-19","party":"morado","value":10.0},{"date":"2015-05-22","party":"morado","value":11.4},{"date":"2015-05-22","party":"morado","value":4.3},{"date":"2015-05-23","party":"morado","value":8.1},{"date":"2015-05-26","party":"morado","value":8.3},{"date":"2015-05-27","party":"morado","value":3.4},{"date":"2015-05-29","party":"morado","value":5.0},{"date":"2015-06-02","party":"morado","value":15.8},{"date":"2015-06-02","party":"morado","value":6.5},{"date":"2015-06-06","party":"morado","value":8.1},{"date":"2015-06-07","party":"morado","value":2.5},{"date":"2015-06-10","party":"morado","value":12.3},{"date":"2015-06-10","party":"morado","value":3.3},{"date":"2015-06-13","party":"morado","value":9.1},{"date":"2015-06-13","party":"morado","value":7.3},{"date":"2015-06-13","party":"morado","value":6.5},{"date":"2015-06-14","party":"morado","value":12.3},{"date":"2015-06-14","party":"morado","value":10.7},{"date":"2015-06-15","party":"morado","value":5.3},{"date":"2015-06-16","party":"morado","value":7.3},{"date":"2015-06-16","party":"morado","value":6.5},{"date":"2015-06-17","party":"morado","value":11.9},{"date":"2015-06-17","party":"morado","value":11.4},{"date":"2015-06-18","party":"morado","value":18.3},{"date":"2015-06-18","party":"morado","value":7.8},{"date":"2015-06-20","party":"morado","value":3.6},{"date":"2015-06-21","party":"morado","value":7.1},{"date":"2015-06-21","party":"morado","value":6.3},{"date":"2015-06-21","party":"morado","value":5.6},{"date":"2015-06-22","party":"morado","value":12.3},{"date":"2015-06-22","party":"morado","value":4.0},{"date":"2015-06-23","party":"morado","value":12.6},{"date":"2015-06-23","party":"morado","value":4.2},{"date":"2015-06-24","party":"morado","value":3.9},{"date":"2015-06-25","party":"morado","value":9.4},{"date":"2015-06-27","party":"morado","value":9.1},{"date":"2015-06-28","party":"morado","value":9.4},{"date":"2015-06-28","party":"morado","value":3.9},{"date":"2015-06-29","party":"morado","value":5.2},{"date":"2015-06-30","party":"morado","value":2.9},{"date":"2015-07-01","party":"morado","value":13.7},{"date":"2015-07-01","party":"morado","value":13.2},{"date":"2015-07-01","party":"morado","value":8.4},{"date":"2015-07-03","party":"morado","value":19.8},{"date":"2015-07-03","party":"morado","value":19.3},{"date":"2015-07-04","party":"morado","value":15.6},{"date":"2015-07-04","party":"morado","value":9.0},{"date":"2015-07-05","party":"morado","value":15.4},{"date":"2015-07-05","party":"morado","value":14.5},{"date":"2015-07-05","party":"morado","value":9.6},{"date":"2015-07-05","party":"morado","value":7.3},{"date":"2015-07-05","party":"morado","value":6.3},{"date":"2015-07-06","party":"morado","value":14.3},{"date":"2015-07-06","party":"morado","value":9.0},{"date":"2015-07-07","party":"morado","value":15.6},{"date":"2015-07-07","party":"morado","value":12.9},{"date":"2015-07-07","party":"morado","value":7.6},{"date":"2015-07-08","party":"morado","value":15.7},{"date":"2015-07-08","party":"morado","value":7.2},{"date":"2015-07-08","party":"morado","value":6.5},{"date":"2015-07-09","party":"morado","value":15.6},{"date":"2015-07-09","party":"morado","value":12.9},{"date":"2015-07-09","party":"morado","value":12.3},{"date":"2015-07-10","party":"morado","value":14.3},{"date":"2015-07-10","party":"morado","value":11.1},{"date":"2015-07-10","party":"morado","value":9.4},{"date":"2015-07-11","party":"morado","value":14.2},{"date":"2015-07-11","party":"morado","value":7.2},{"date":"2015-07-12","party":"morado","value":14.5},{"date":"2015-07-12","party":"morado","value":9.45},{"date":"2015-07-12","party":"morado","value":7.3},{"date":"2015-07-13","party":"morado","value":9.45},{"date":"2015-07-13","party":"morado","value":6.5},{"date":"2015-07-14","party":"morado","value":13.2},{"date":"2015-07-14","party":"morado","value":9.45},{"date":"2015-07-15","party":"morado","value":16.2},{"date":"2015-07-15","party":"morado","value":9.45},{"date":"2015-07-16","party":"morado","value":12.9},{"date":"2015-07-16","party":"morado","value":9.45},{"date":"2015-07-17","party":"morado","value":14.7},{"date":"2015-07-17","party":"morado","value":9.45},{"date":"2015-07-18","party":"morado","value":9.45},{"date":"2015-07-19","party":"morado","value":14.5},{"date":"2015-07-19","party":"morado","value":12.2},{"date":"2015-07-19","party":"morado","value":9.45},{"date":"2015-07-20","party":"morado","value":17.5},{"date":"2015-07-20","party":"morado","value":9.45},{"date":"2015-07-21","party":"morado","value":14.7},{"date":"2015-07-22","party":"morado","value":14.3},{"date":"2015-07-23","party":"morado","value":16.8},{"date":"2015-07-23","party":"morado","value":6.7},{"date":"2015-07-25","party":"morado","value":15.2},{"date":"2015-07-25","party":"morado","value":9.5},{"date":"2015-07-25","party":"morado","value":8.1},{"date":"2015-07-26","party":"morado","value":13.2},{"date":"2015-07-26","party":"morado","value":9.5},{"date":"2015-07-27","party":"morado","value":13.0},{"date":"2015-07-28","party":"morado","value":12.6},{"date":"2015-07-28","party":"morado","value":9.8},{"date":"2015-07-29","party":"morado","value":12.0},{"date":"2015-07-29","party":"morado","value":9.8},{"date":"2015-07-29","party":"morado","value":7.3},{"date":"2015-07-30","party":"morado","value":9.8},{"date":"2015-07-31","party":"morado","value":8.4},{"date":"2015-08-01","party":"morado","value":11.8},{"date":"2015-08-02","party":"morado","value":13.8},{"date":"2015-08-02","party":"morado","value":13.4},{"date":"2015-08-02","party":"morado","value":9.4},{"date":"2015-08-02","party":"morado","value":8.4},{"date":"2015-08-02","party":"morado","value":6.2},{"date":"2015-08-03","party":"morado","value":9.4},{"date":"2015-08-04","party":"morado","value":14.3},{"date":"2015-08-04","party":"morado","value":13.4},{"date":"2015-08-04","party":"morado","value":9.4},{"date":"2015-08-05","party":"morado","value":9.4},
{"date":"2015-01-04","party":"rosa","value":7.1},{"date":"2015-01-09","party":"rosa","value":13.2},{"date":"2015-01-21","party":"rosa","value":5.7},{"date":"2015-01-22","party":"rosa","value":11.4},{"date":"2015-01-22","party":"rosa","value":5.7},{"date":"2015-01-25","party":"rosa","value":12.0},{"date":"2015-02-06","party":"rosa","value":11.0},{"date":"2015-02-08","party":"rosa","value":10.6},{"date":"2015-02-14","party":"rosa","value":8.0},{"date":"2015-02-17","party":"rosa","value":10.7},{"date":"2015-02-19","party":"rosa","value":6.8},{"date":"2015-02-20","party":"rosa","value":10.3},{"date":"2015-02-21","party":"rosa","value":12.0},{"date":"2015-02-22","party":"rosa","value":4.6},{"date":"2015-02-25","party":"rosa","value":12.8},{"date":"2015-03-01","party":"rosa","value":5.9},{"date":"2015-03-14","party":"rosa","value":8.9},{"date":"2015-03-15","party":"rosa","value":4.6},{"date":"2015-03-16","party":"rosa","value":4.8},{"date":"2015-03-17","party":"rosa","value":12.0},{"date":"2015-03-17","party":"rosa","value":4.6},{"date":"2015-03-21","party":"rosa","value":4.3},{"date":"2015-03-25","party":"rosa","value":4.3},{"date":"2015-03-27","party":"rosa","value":13.3},{"date":"2015-03-28","party":"rosa","value":8.1},{"date":"2015-04-10","party":"rosa","value":8.4},{"date":"2015-04-12","party":"rosa","value":5.0},{"date":"2015-04-17","party":"rosa","value":11.7},{"date":"2015-04-20","party":"rosa","value":5.0},{"date":"2015-04-24","party":"rosa","value":4.6},{"date":"2015-04-25","party":"rosa","value":5.0},{"date":"2015-04-27","party":"rosa","value":2.4},{"date":"2015-04-29","party":"rosa","value":1.2},{"date":"2015-04-30","party":"rosa","value":8.0},{"date":"2015-04-30","party":"rosa","value":2.4},{"date":"2015-05-02","party":"rosa","value":7.2},{"date":"2015-05-02","party":"rosa","value":4.3},{"date":"2015-05-04","party":"rosa","value":11.1},{"date":"2015-05-04","party":"rosa","value":5.3},{"date":"2015-05-05","party":"rosa","value":5.9},{"date":"2015-05-09","party":"rosa","value":5.9},{"date":"2015-05-15","party":"rosa","value":5.7},{"date":"2015-05-19","party":"rosa","value":3.1},{"date":"2015-05-22","party":"rosa","value":5.3},{"date":"2015-05-23","party":"rosa","value":5.0},{"date":"2015-05-26","party":"rosa","value":13.7},{"date":"2015-05-29","party":"rosa","value":2.1},{"date":"2015-06-02","party":"rosa","value":9.4},{"date":"2015-06-02","party":"rosa","value":3.0},{"date":"2015-06-06","party":"rosa","value":4.3},{"date":"2015-06-10","party":"rosa","value":9.3},{"date":"2015-06-13","party":"rosa","value":4.9},{"date":"2015-06-14","party":"rosa","value":2.3},{"date":"2015-06-16","party":"rosa","value":13.2},{"date":"2015-06-16","party":"rosa","value":8.1},{"date":"2015-06-16","party":"rosa","value":7.3},{"date":"2015-06-16","party":"rosa","value":2.3},{"date":"2015-06-17","party":"rosa","value":3.7},{"date":"2015-06-18","party":"rosa","value":5.8},{"date":"2015-06-21","party":"rosa","value":8.0},{"date":"2015-06-21","party":"rosa","value":2.3},{"date":"2015-06-23","party":"rosa","value":2.3},{"date":"2015-06-24","party":"rosa","value":6.1},{"date":"2015-06-27","party":"rosa","value":5.2},{"date":"2015-06-27","party":"rosa","value":2.3},{"date":"2015-06-28","party":"rosa","value":6.1},{"date":"2015-06-30","party":"rosa","value":2.1},{"date":"2015-07-02","party":"rosa","value":9.1},{"date":"2015-07-03","party":"rosa","value":6.1},{"date":"2015-07-03","party":"rosa","value":2.1},{"date":"2015-07-04","party":"rosa","value":4.9},{"date":"2015-07-04","party":"rosa","value":1.3},{"date":"2015-07-05","party":"rosa","value":6.3},{"date":"2015-07-05","party":"rosa","value":1.6},{"date":"2015-07-06","party":"rosa","value":5.6},{"date":"2015-07-06","party":"rosa","value":4.3},{"date":"2015-07-07","party":"rosa","value":6.3},{"date":"2015-07-08","party":"rosa","value":6.1},{"date":"2015-07-08","party":"rosa","value":3.8},{"date":"2015-07-09","party":"rosa","value":5.6},{"date":"2015-07-09","party":"rosa","value":2.1},{"date":"2015-07-10","party":"rosa","value":6.3},{"date":"2015-07-11","party":"rosa","value":5.6},{"date":"2015-07-11","party":"rosa","value":1.9},{"date":"2015-07-12","party":"rosa","value":8.2},{"date":"2015-07-12","party":"rosa","value":4.9},{"date":"2015-07-13","party":"rosa","value":5.6},{"date":"2015-07-15","party":"rosa","value":6.3},{"date":"2015-07-16","party":"rosa","value":5.6},{"date":"2015-07-17","party":"rosa","value":5.6},{"date":"2015-07-18","party":"rosa","value":5.6},{"date":"2015-07-19","party":"rosa","value":8.8},{"date":"2015-07-19","party":"rosa","value":4.7},{"date":"2015-07-20","party":"rosa","value":5.6},{"date":"2015-07-21","party":"rosa","value":5.6},{"date":"2015-07-22","party":"rosa","value":4.8},{"date":"2015-07-23","party":"rosa","value":5.6},{"date":"2015-07-24","party":"rosa","value":4.9},{"date":"2015-07-25","party":"rosa","value":6.1},{"date":"2015-07-25","party":"rosa","value":3.8},{"date":"2015-07-26","party":"rosa","value":5.6},{"date":"2015-07-27","party":"rosa","value":3.8},{"date":"2015-07-28","party":"rosa","value":5.6},{"date":"2015-07-29","party":"rosa","value":5.6},{"date":"2015-07-31","party":"rosa","value":3.8},{"date":"2015-08-02","party":"rosa","value":8.8},{"date":"2015-08-02","party":"rosa","value":5.6},{"date":"2015-08-02","party":"rosa","value":3.3},{"date":"2015-08-03","party":"rosa","value":5.6},{"date":"2015-08-03","party":"rosa","value":3.0},{"date":"2015-08-04","party":"rosa","value":5.6},{"date":"2015-08-05","party":"rosa","value":5.6},
{"date":"2015-01-04","party":"naranja","value":0.1},{"date":"2015-01-09","party":"naranja","value":0.1},{"date":"2015-01-21","party":"naranja","value":0.1},{"date":"2015-01-22","party":"naranja","value":0.1},{"date":"2015-02-06","party":"naranja","value":0.1},{"date":"2015-02-14","party":"naranja","value":0.1},{"date":"2015-02-17","party":"naranja","value":0.1},{"date":"2015-02-19","party":"naranja","value":0.1},{"date":"2015-02-20","party":"naranja","value":0.1},{"date":"2015-02-22","party":"naranja","value":0.1},{"date":"2015-02-25","party":"naranja","value":0.1},{"date":"2015-02-27","party":"naranja","value":0.1},{"date":"2015-03-01","party":"naranja","value":0.1},{"date":"2015-03-06","party":"naranja","value":0.1},{"date":"2015-03-14","party":"naranja","value":0.1},{"date":"2015-03-15","party":"naranja","value":0.1},{"date":"2015-03-16","party":"naranja","value":0.1},{"date":"2015-04-10","party":"naranja","value":0.1},{"date":"2015-04-12","party":"naranja","value":0.1},{"date":"2015-04-17","party":"naranja","value":0.1},{"date":"2015-04-20","party":"naranja","value":0.1},{"date":"2015-04-24","party":"naranja","value":0.1},{"date":"2015-04-25","party":"naranja","value":0.1},{"date":"2015-04-27","party":"naranja","value":0.1},{"date":"2015-04-28","party":"naranja","value":0.1},{"date":"2015-04-29","party":"naranja","value":0.1},{"date":"2015-04-30","party":"naranja","value":0.1},{"date":"2015-05-02","party":"naranja","value":0.1},{"date":"2015-05-04","party":"naranja","value":0.1},{"date":"2015-05-05","party":"naranja","value":0.1},{"date":"2015-05-09","party":"naranja","value":0.1},{"date":"2015-05-15","party":"naranja","value":2.8},{"date":"2015-05-19","party":"naranja","value":0.1},{"date":"2015-05-22","party":"naranja","value":0.1},{"date":"2015-05-23","party":"naranja","value":0.1},{"date":"2015-05-26","party":"naranja","value":0.1},{"date":"2015-05-27","party":"naranja","value":0.1},{"date":"2015-05-29","party":"naranja","value":0.1},{"date":"2015-06-02","party":"naranja","value":0.1},{"date":"2015-06-06","party":"naranja","value":1.6},{"date":"2015-06-06","party":"naranja","value":0.1},{"date":"2015-06-07","party":"naranja","value":0.1},{"date":"2015-06-10","party":"naranja","value":7.2},{"date":"2015-06-10","party":"naranja","value":4.3},{"date":"2015-06-13","party":"naranja","value":1.5},{"date":"2015-06-14","party":"naranja","value":0.1},{"date":"2015-06-15","party":"naranja","value":2.1},{"date":"2015-06-16","party":"naranja","value":1.5},{"date":"2015-06-23","party":"naranja","value":7.1},{"date":"2015-06-25","party":"naranja","value":6.7},{"date":"2015-06-25","party":"naranja","value":1.1},{"date":"2015-06-27","party":"naranja","value":6.5},{"date":"2015-06-28","party":"naranja","value":7.2},{"date":"2015-06-28","party":"naranja","value":6.2},{"date":"2015-06-30","party":"naranja","value":6.9},{"date":"2015-07-02","party":"naranja","value":0.6},{"date":"2015-07-03","party":"naranja","value":1.2},{"date":"2015-07-04","party":"naranja","value":0.8},{"date":"2015-07-05","party":"naranja","value":4.5},{"date":"2015-07-05","party":"naranja","value":1.2},{"date":"2015-07-06","party":"naranja","value":4.5},{"date":"2015-07-07","party":"naranja","value":4.5},{"date":"2015-07-08","party":"naranja","value":4.5},{"date":"2015-07-08","party":"naranja","value":0.7},{"date":"2015-07-09","party":"naranja","value":4.4},{"date":"2015-07-09","party":"naranja","value":2.3},{"date":"2015-07-11","party":"naranja","value":4.7},{"date":"2015-07-11","party":"naranja","value":2.3},{"date":"2015-07-12","party":"naranja","value":4.5},{"date":"2015-07-12","party":"naranja","value":3.3},{"date":"2015-07-12","party":"naranja","value":1.1},{"date":"2015-07-13","party":"naranja","value":4.5},{"date":"2015-07-13","party":"naranja","value":3.3},{"date":"2015-07-13","party":"naranja","value":1.3},{"date":"2015-07-14","party":"naranja","value":4.5},{"date":"2015-07-14","party":"naranja","value":3.2},{"date":"2015-07-15","party":"naranja","value":4.6},{"date":"2015-07-15","party":"naranja","value":3.3},{"date":"2015-07-16","party":"naranja","value":3.2},{"date":"2015-07-17","party":"naranja","value":4.6},{"date":"2015-07-17","party":"naranja","value":3.2},{"date":"2015-07-18","party":"naranja","value":4.6},{"date":"2015-07-18","party":"naranja","value":3.0},{"date":"2015-07-19","party":"naranja","value":4.5},{"date":"2015-07-19","party":"naranja","value":2.4},{"date":"2015-07-20","party":"naranja","value":2.9},{"date":"2015-07-21","party":"naranja","value":3.1},{"date":"2015-07-22","party":"naranja","value":5.5},{"date":"2015-07-22","party":"naranja","value":3.1},{"date":"2015-07-23","party":"naranja","value":5.2},{"date":"2015-07-23","party":"naranja","value":3.0},{"date":"2015-07-23","party":"naranja","value":0.8},{"date":"2015-07-24","party":"naranja","value":5.3},{"date":"2015-07-25","party":"naranja","value":5.8},{"date":"2015-07-25","party":"naranja","value":2.0},{"date":"2015-07-26","party":"naranja","value":5.6},{"date":"2015-07-26","party":"naranja","value":2.8},{"date":"2015-07-28","party":"naranja","value":5.6},{"date":"2015-07-28","party":"naranja","value":2.8},{"date":"2015-07-29","party":"naranja","value":5.2},{"date":"2015-07-29","party":"naranja","value":2.7},{"date":"2015-07-30","party":"naranja","value":2.7},{"date":"2015-07-31","party":"naranja","value":5.5},{"date":"2015-08-02","party":"naranja","value":5.7},{"date":"2015-08-02","party":"naranja","value":2.7},{"date":"2015-08-03","party":"naranja","value":5.6},{"date":"2015-08-03","party":"naranja","value":2.7},{"date":"2015-08-04","party":"naranja","value":5.6},{"date":"2015-08-04","party":"naranja","value":2.6},{"date":"2015-08-05","party":"naranja","value":2.6}
]},
"encoding":{"x":{"field":"date","type":"temporal",
"scale":{"type":"utc","domain":[{"year":2015,"month":1,"date":1,"utc":true},{"year":2015,"month":8,"date":11,"hours":13,"utc":true}]},
"axis":{"title":null,"labelOverlap":false,"labelFlush":false,"values":[{"year":2015,"month":1,"date":11,"utc":true},{"year":2015,"month":1,"date":25,"utc":true},{"year":2015,"month":2,"date":8,"utc":true},{"year":2015,"month":2,"date":22,"utc":true},{"year":2015,"month":3,"date":8,"utc":true},{"year":2015,"month":3,"date":22,"utc":true},{"year":2015,"month":4,"date":5,"utc":true},{"year":2015,"month":4,"date":19,"utc":true},{"year":2015,"month":5,"date":3,"utc":true},{"year":2015,"month":5,"date":17,"utc":true},{"year":2015,"month":5,"date":31,"utc":true},{"year":2015,"month":6,"date":14,"utc":true},{"year":2015,"month":6,"date":28,"utc":true},{"year":2015,"month":7,"date":12,"utc":true},{"year":2015,"month":7,"date":26,"utc":true},{"year":2015,"month":8,"date":9,"utc":true}],
"labelExpr":"['Ene','Feb','Mar','Abr','May','Jun','Jul','Ago','Sep','Oct','Nov','Dic'][utcmonth(datum.value)]"}}},
"layer":[
{"data":{"name":"trend"},"mark":{"type":"area","opacity":0.45,"interpolate":"monotone"},
"encoding":{"y":{"field":"lo","type":"quantitative","stack":null,"scale":{"domain":[0,50]},"axis":{"values":[0,10,20,30,40,50],"title":null}},"y2":{"field":"hi"},
"color":{"field":"party","type":"nominal","legend":null,"scale":{"domain":["rojo","cian","azul","morado","rosa","naranja"],"range":["#fbc9c1","#c8efe3","#c6d5d8","#dccbf3","#fccdc6","#fde6c6"]}}}},
{"data":{"name":"polls"},"mark":{"type":"point","filled":true,"opacity":0.58,"strokeWidth":0},
"encoding":{"y":{"field":"value","type":"quantitative","scale":{"domain":[0,50]},"axis":{"values":[0,10,20,30,40,50],"title":null}},
"color":{"field":"party","type":"nominal","legend":null,"scale":{"domain":["rojo","cian","azul","morado","rosa","naranja"],"range":["#ec6f78","#8fdcd6","#6d94a6","#8a63dd","#f7a59c","#f5bd78"]}},
"shape":{"field":"party","type":"nominal","legend":null,"scale":{"domain":["rojo","cian","azul","morado","rosa","naranja"],"range":["diamond","circle","triangle-up","triangle-down","square","diamond"]}},
"size":{"field":"party","type":"nominal","legend":null,"scale":{"domain":["rojo","cian","azul","morado","rosa","naranja"],"range":[95,110,125,125,110,70]}}}},
{"data":{"name":"trend"},"mark":{"type":"line","strokeWidth":3.8,"interpolate":"monotone"},
"encoding":{"y":{"field":"value","type":"quantitative","scale":{"domain":[0,50]},"axis":{"values":[0,10,20,30,40,50],"title":null}},
"color":{"field":"party","type":"nominal","legend":null,"scale":{"domain":["rojo","cian","azul","morado","rosa","naranja"],"range":["#ef5b64","#4fd3d6","#1e6f91","#5a1ed6","#f6898a","#f0b04f"]}}}},
{"data":{"name":"labels"},"mark":{"type":"text","align":"left","baseline":"middle","dx":22,"fontSize":20,"fontWeight":"bold","font":"DejaVu Sans Mono"},
"encoding":{"y":{"field":"value","type":"quantitative","scale":{"domain":[0,50]},"axis":{"values":[0,10,20,30,40,50],"title":null}},"text":{"field":"label"},
"color":{"field":"party","type":"nominal","legend":null,"scale":{"domain":["rojo","cian","azul","morado","rosa","naranja"],"range":["#ef5b64","#4fd3d6","#1e6f91","#5a1ed6","#f6898a","#f0b04f"]}}}}
],
"resolve":{"scale":{"color":"independent"}}
}
